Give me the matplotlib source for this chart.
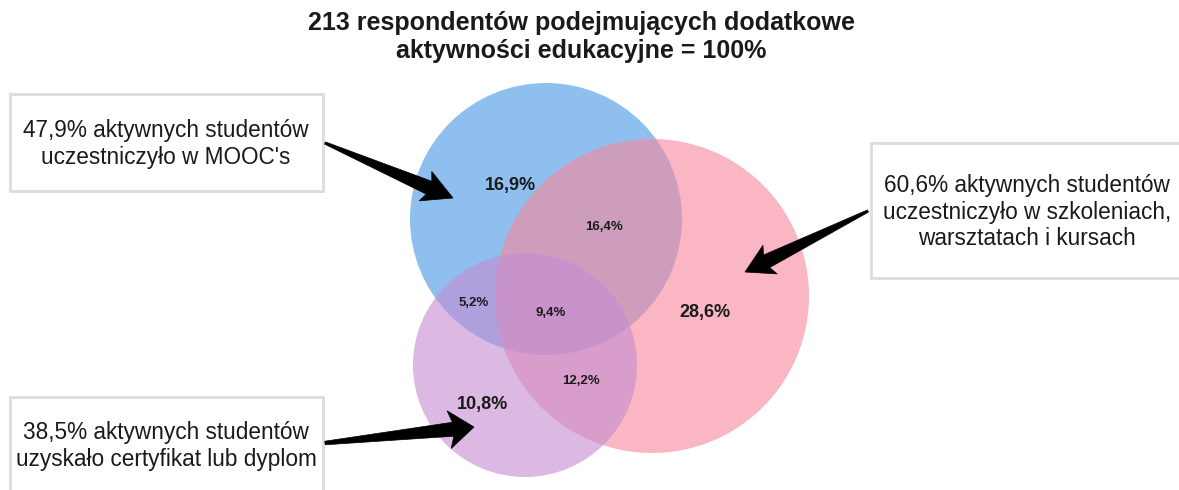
import numpy as np
import matplotlib
matplotlib.use("Agg")
import matplotlib.pyplot as plt
from matplotlib.patches import Circle, Rectangle, Polygon

# ---------------- data ----------------
title_lines = ["213 respondentów podejmujących dodatkowe", "aktywności edukacyjne = 100%"]
set_names = ["MOOC", "Szkolenia", "Certyfikat"]
set_totals = [47.9, 60.6, 38.5]
set_texts = [
    "{}% aktywnych studentów\nuczestniczyło w MOOC's",
    "{}% aktywnych studentów\nuczestniczyło w szkoleniach,\nwarsztatach i kursach",
    "{}% aktywnych studentów\nuzyskało certyfikat lub dyplom",
]
region_keys = ["M", "MS", "MC", "MSC", "S", "SC", "C"]
region_values = [16.9, 16.4, 5.2, 9.4, 28.6, 12.2, 10.8]

# ---------------- layout / style ----------------
W, H = 1179, 490
circle_geom = {"MOOC": (546, 219, 136), "Szkolenia": (652, 296, 157), "Certyfikat": (525, 365, 112)}
circle_colors = {"MOOC": "#4999e5", "Szkolenia": "#f8899e", "Certyfikat": "#c58ed3"}
circle_alpha = 0.62
region_pos = {"M": (510, 185), "MS": (604, 227), "MC": (474, 303), "MSC": (551, 313),
              "S": (705, 312), "SC": (581, 381), "C": (482, 404)}
big_regions = {"M", "S", "C"}
boxes = [(10, 94, 313, 97), (871, 143, 320, 135), (10, 397, 313, 110)]
box_text_pos = [(166, 144), (1027, 212), (166, 446)]
arrows = [((325, 143), (453, 198), 1.2, 7, 16, 26),
          ((868, 211), (745, 272), 1.2, 7, 16, 24),
          ((325, 443), (474, 427), 1.8, 7, 19, 21)]

def fmt(v):
    return f"{v:.1f}".replace(".", ",")

def arrow_poly(tail, tip, w0, w1, wh, lh):
    T = np.array(tail, float); Hh = np.array(tip, float)
    u = (Hh - T) / np.linalg.norm(Hh - T)
    n = np.array([-u[1], u[0]])
    B = Hh - u * lh
    return [T + n * w0, B + n * w1, B - u * 4 + n * wh, Hh,
            B - u * 4 - n * wh, B - n * w1, T - n * w0]

plt.rcParams['font.family'] = ['Liberation Sans', 'DejaVu Sans']
fig = plt.figure(figsize=(W / 100, H / 100), dpi=100)
ax = fig.add_axes([0, 0, 1, 1])
ax.set_xlim(0, W)
ax.set_ylim(H, 0)
ax.set_aspect('equal')
ax.axis('off')

for name in ["MOOC", "Szkolenia", "Certyfikat"]:
    cx, cy, r = circle_geom[name]
    ax.add_patch(Circle((cx, cy), r, facecolor=circle_colors[name], alpha=circle_alpha,
                        edgecolor='none', zorder=1))

for key, val in zip(region_keys, region_values):
    x, y = region_pos[key]
    big = key in big_regions
    ax.text(x, y, fmt(val) + "%", ha='center', va='center', fontsize=13 if big else 9.5,
            fontweight='bold', color='#1a1a1a', zorder=3)

for (bx, by, bw, bh), (tx, ty), tot, txt in zip(boxes, box_text_pos, set_totals, set_texts):
    ax.add_patch(Rectangle((bx, by), bw, bh, facecolor='white', edgecolor='#dcdcdc',
                           linewidth=2, zorder=2))
    ax.text(tx, ty, txt.format(fmt(tot)), ha='center', va='center', fontsize=16.3,
            color='#1a1a1a', linespacing=1.2, zorder=3)

for tail, tip, w0, w1, wh, lh in arrows:
    ax.add_patch(Polygon(arrow_poly(tail, tip, w0, w1, wh, lh), closed=True,
                         facecolor='black', edgecolor='black', linewidth=0.5, zorder=4))

ax.text(581, 37, "\n".join(title_lines), ha='center', va='center', fontsize=18,
        fontweight='bold', color='#1a1a1a', linespacing=1.22, zorder=3)

fig.savefig("out.png", dpi=100)
